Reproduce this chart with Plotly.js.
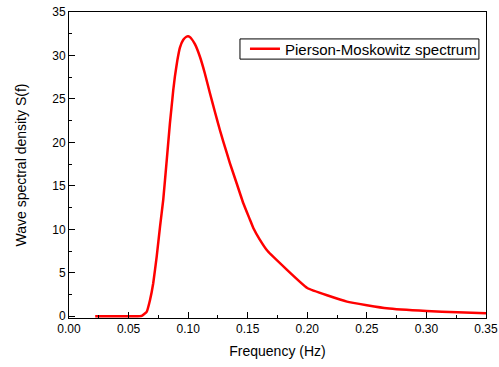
<!DOCTYPE html>
<html>
<head>
<meta charset="utf-8">
<script src="https://cdn.plot.ly/plotly-3.0.1.min.js"></script>
<style>html,body{margin:0;padding:0;background:#fff;}#chart{width:499px;height:367px;}</style>
</head>
<body>
<div id="chart"></div>
<script>
const frequency = [0.022, 0.040, 0.055, 0.061, 0.0652, 0.068, 0.0707, 0.0736, 0.0764, 0.0791, 0.082, 0.0847, 0.0861, 0.0875, 0.0889, 0.0909, 0.0931, 0.0959, 0.0985, 0.100, 0.1020, 0.1057, 0.1099, 0.1141, 0.1183, 0.1225, 0.1267, 0.1295, 0.1351, 0.1407, 0.1463, 0.1519, 0.1547, 0.160, 0.1667, 0.200, 0.2333, 0.2667, 0.300, 0.326, 0.350];
const spectrum  = [0.0, 0.0, 0.0, 0.05, 0.5, 1.87, 3.8, 6.85, 10.3, 13.4, 17.9, 22.2, 24.1, 26.0, 27.6, 29.4, 30.9, 31.8, 32.15, 32.2, 32.05, 31.3, 29.85, 27.9, 25.65, 23.5, 21.4, 20.1, 17.6, 15.3, 13.0, 11.1, 10.15, 8.85, 7.5, 3.25, 1.68, 0.92, 0.6, 0.45, 0.34];
const xTickVals = [0, 0.05, 0.10, 0.15, 0.20, 0.25, 0.30, 0.35];
const yTickVals = [0, 5, 10, 15, 20, 25, 30, 35];
const seriesName = 'Pierson-Moskowitz spectrum';

const trace = {
  x: frequency, y: spectrum, type: 'scatter', mode: 'lines',
  name: seriesName,
  line: {color: '#ff0000', width: 2.5, shape: 'spline', smoothing: 0.3}
};
const font = {family: 'Liberation Sans, Arial, sans-serif', color: '#000'};
const layout = {
  width: 499, height: 367,
  margin: {l: 69, r: 13, t: 12, b: 49},
  paper_bgcolor: '#fff', plot_bgcolor: '#fff',
  font: Object.assign({size: 12}, font),
  showlegend: true,
  legend: {x: 0.422, y: 0.879, xanchor: 'left', yanchor: 'middle', borderwidth: 0, bgcolor: 'rgba(0,0,0,0)', font: Object.assign({size: 15}, font)},
  shapes: [{type: 'rect', xref: 'paper', yref: 'paper', x0: 0.410, x1: 0.983, y0: 0.846, y1: 0.912, line: {color: '#000', width: 1}, fillcolor: 'rgba(0,0,0,0)', layer: 'below'}],
  xaxis: {
    range: [0, 0.35], tickvals: xTickVals, tickformat: '.2f',
    showgrid: false, zeroline: false, showline: true, linecolor: '#000', linewidth: 1, mirror: true,
    ticks: 'inside', ticklen: 6, tickcolor: '#000', tickfont: Object.assign({size: 12}, font),
    minor: {dtick: 0.025, tick0: 0, ticks: 'inside', ticklen: 3, tickcolor: '#000', showgrid: false},
    title: {text: 'Frequency (Hz)', font: Object.assign({size: 14}, font), standoff: 10}
  },
  yaxis: {
    range: [-0.2, 35], tickvals: yTickVals,
    showgrid: false, zeroline: false, showline: true, linecolor: '#000', linewidth: 1, mirror: true,
    ticks: 'inside', ticklen: 6, tickcolor: '#000', tickfont: Object.assign({size: 12}, font),
    minor: {dtick: 2.5, tick0: 0, ticks: 'inside', ticklen: 3, tickcolor: '#000', showgrid: false},
    title: {text: 'Wave spectral density S(f)', font: Object.assign({size: 14}, font), standoff: 22}
  }
};
Plotly.newPlot('chart', [trace], layout, {displayModeBar: false, staticPlot: true});
</script>
</body>
</html>
